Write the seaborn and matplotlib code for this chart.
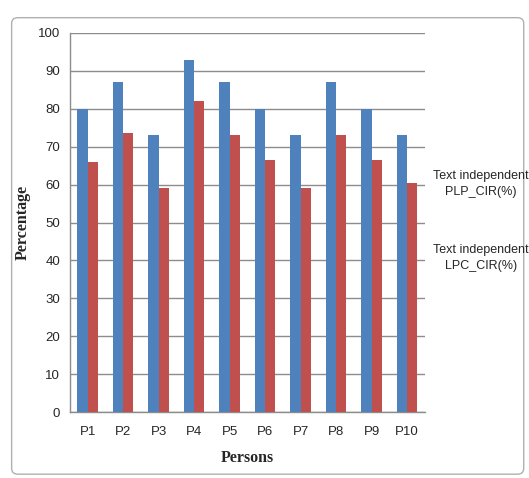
import pandas as pd
import seaborn as sns
import matplotlib.pyplot as plt
from matplotlib.patches import FancyBboxPatch

# values
persons = ['P1', 'P2', 'P3', 'P4', 'P5', 'P6', 'P7', 'P8', 'P9', 'P10']
plp_cir = [80, 87, 73, 93, 87, 80, 73, 87, 80, 73]
lpc_cir = [66, 73.6, 59.2, 82, 73.2, 66.6, 59.2, 73.2, 66.6, 60.3]
series = ['Text independent\nPLP_CIR(%)', 'Text independent\nLPC_CIR(%)']
yticks = [0, 10, 20, 30, 40, 50, 60, 70, 80, 90, 100]

df = pd.DataFrame({
    'Persons': persons * 2,
    'Percentage': plp_cir + lpc_cir,
    'Series': [series[0]] * len(persons) + [series[1]] * len(persons),
})

sns.set_style('white')
plt.rcParams['font.family'] = ['Liberation Sans', 'DejaVu Sans']

fig = plt.figure(figsize=(5.29, 4.78), dpi=100)
ax = fig.add_axes([0.132, 0.138, 0.671, 0.793])

sns.barplot(data=df, x='Persons', y='Percentage', hue='Series',
            palette=['#4F81BD', '#C0504D'], width=0.58, legend=False,
            saturation=1, linewidth=0, ax=ax, zorder=3)

ax.set_ylim(0, 100)
ax.set_yticks(yticks)
ax.set_xlim(-0.5, len(persons) - 0.5)
ax.yaxis.grid(True, color='#8c8c8c', linewidth=1, zorder=0)
ax.set_axisbelow(True)
for s in ['top', 'right']:
    ax.spines[s].set_visible(False)
for s in ['left', 'bottom']:
    ax.spines[s].set_color('#8c8c8c')
    ax.spines[s].set_linewidth(1)
ax.tick_params(axis='y', length=4, color='#8c8c8c', labelsize=9.5, pad=3)
ax.tick_params(axis='x', length=0, labelsize=9.5, pad=10)

ax.set_xlabel('Persons', fontfamily='Liberation Serif', fontweight='bold',
              fontsize=11.5, labelpad=9)
ax.set_ylabel('Percentage', fontfamily='Liberation Serif', fontweight='bold',
              fontsize=11.5, labelpad=5)

# legend as plain text on the right, like the Excel original
fig.text(0.909, 1 - 184 / 478, series[0], ha='center', va='center',
         fontsize=9, linespacing=1.35)
fig.text(0.909, 1 - 258 / 478, series[1], ha='center', va='center',
         fontsize=9, linespacing=1.35)

# chart area border
fig.patches.append(FancyBboxPatch((0.022, 0.008), 0.968, 0.955,
                                  boxstyle='round,pad=0,rounding_size=0.012',
                                  transform=fig.transFigure, fill=False,
                                  edgecolor='#b0b0b0', linewidth=1))

fig.savefig('out.png', dpi=100)
